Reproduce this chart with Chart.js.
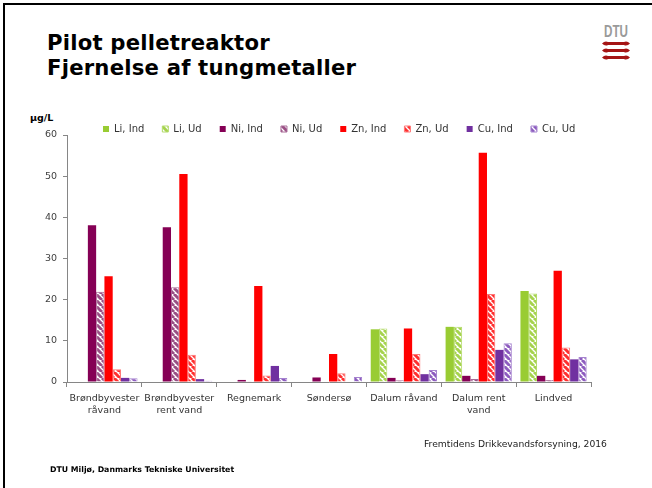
<!DOCTYPE html>
<html><head><meta charset="utf-8">
<script src="https://cdn.jsdelivr.net/npm/chart.js@4"></script>
<style>
html,body{margin:0;padding:0;background:#fff;}
#wrap{position:relative;width:652px;height:488px;overflow:hidden;background:#fff;font-family:"DejaVu Sans",sans-serif;}
#frame{position:absolute;left:3px;top:3px;width:660px;height:500px;border-top:2px solid #000;border-left:2px solid #000;}
#title{position:absolute;left:47px;top:30px;font-family:"DejaVu Sans",sans-serif;font-weight:bold;font-size:21.2px;line-height:25px;color:#000;letter-spacing:0.2px;}
#unit{position:absolute;left:30px;top:112px;font-size:9.5px;font-weight:bold;color:#000;}
#src{position:absolute;left:424px;top:438px;font-size:9.2px;color:#222;}
#foot{position:absolute;left:50px;top:465px;font-size:7.8px;font-weight:bold;color:#000;}
#logo{position:absolute;left:600px;top:20px;}
canvas{position:absolute;left:0;top:0;}
</style></head>
<body><div id="wrap">
<div id="frame"></div>
<div id="title">Pilot pelletreaktor<br>Fjernelse af tungmetaller</div>
<svg id="logo" width="32" height="44" viewBox="0 0 32 44">
 <text x="4" y="17" font-family="Liberation Sans Narrow,Liberation Sans,sans-serif" font-weight="bold" font-size="16" fill="#9a9a9a" textLength="24" lengthAdjust="spacingAndGlyphs">DTU</text>
 <g fill="#a51515">
  <path d="M2 23.5 Q5 20.5 8 22 L24 22 Q27 20.5 30 23.5 Q27 26.5 24 25 L8 25 Q5 26.5 2 23.5 Z"/>
  <path d="M2 30.5 Q5 27.5 8 29 L24 29 Q27 27.5 30 30.5 Q27 33.5 24 32 L8 32 Q5 33.5 2 30.5 Z"/>
  <path d="M2 37.5 Q5 34.5 8 36 L24 36 Q27 34.5 30 37.5 Q27 40.5 24 39 L8 39 Q5 40.5 2 37.5 Z"/>
 </g>
</svg>
<div id="unit">µg/L</div>
<canvas id="c" width="652" height="488"></canvas>
<div id="src">Fremtidens Drikkevandsforsyning, 2016</div>
<div id="foot">DTU Miljø, Danmarks Tekniske Universitet</div>
</div>
<script>
const categories = [["Brøndbyvester","råvand"],["Brøndbyvester","rent vand"],"Regnemark","Søndersø","Dalum råvand",["Dalum rent","vand"],"Lindved"];
const seriesNames = ["Li, Ind","Li, Ud","Ni, Ind","Ni, Ud","Zn, Ind","Zn, Ud","Cu, Ind","Cu, Ud"];
const liInd = [0, 0, 0, 0, 12.8, 13.4, 22.1];
const liUd  = [0, 0, 0, 0, 13.0, 13.4, 21.5];
const niInd = [38.1, 37.6, 0.5, 1.1, 1.0, 1.5, 1.5];
const niUd  = [21.9, 23.0, 0.2, 0.1, 0.4, 0.7, 0.5];
const znInd = [25.7, 50.5, 23.3, 6.8, 13.0, 55.7, 27.0];
const znUd  = [3.1, 6.6, 1.6, 2.1, 6.8, 21.4, 8.4];
const cuInd = [1.0, 0.7, 3.9, 0, 1.9, 7.8, 5.5];
const cuUd  = [0.9, 0.3, 1.0, 1.2, 2.9, 9.4, 6.1];
const yTicks = [0,10,20,30,40,50,60];

function hatch(color){
  const s = 6, c = document.createElement('canvas');
  c.width = s; c.height = s;
  const g = c.getContext('2d');
  g.fillStyle = '#fff'; g.fillRect(0,0,s,s);
  g.strokeStyle = color; g.lineWidth = 3;
  g.beginPath();
  for (const k of [-s,0,s]) { g.moveTo(k,0); g.lineTo(k+s,s); }
  g.stroke();
  return g.createPattern(c,'repeat');
}

const solid = (label, data, color) => ({label, data, backgroundColor: color, borderColor: color, borderWidth: 0});
const striped = (label, data, color, border) => ({label, data, backgroundColor: hatch(color), borderColor: border, borderWidth: 1});

const datasets = [
  solid(seriesNames[0], liInd, '#99CC33'),
  striped(seriesNames[1], liUd, '#A6D34E', '#B4DB6C'),
  solid(seriesNames[2], niInd, '#850055'),
  striped(seriesNames[3], niUd, '#9A4F85', '#A86A96'),
  solid(seriesNames[4], znInd, '#FF0000'),
  striped(seriesNames[5], znUd, '#FF3030', '#FF7777'),
  solid(seriesNames[6], cuInd, '#7030A0'),
  striped(seriesNames[7], cuUd, '#8D5CBF', '#A583CF')
];

const shiftLegend = {
  id: 'shiftLegend',
  afterLayout(chart){
    const l = chart.legend;
    const dx = 85 - l.left, dy = 106 - l.top;
    l.left += dx; l.right += dx; l.top += dy; l.bottom += dy;
  }
};

new Chart(document.getElementById('c'), {
  type: 'bar',
  data: { labels: categories, datasets },
  plugins: [shiftLegend],
  options: {
    responsive: false,
    animation: false,
    layout: { padding: { left: 10, right: 61, top: 97, bottom: 66 } },
    datasets: { bar: { categoryPercentage: 0.885, barPercentage: 1.0 } },
    plugins: {
      tooltip: { enabled: false },
      legend: {
        position: 'top', align: 'start',
        labels: {
          boxWidth: 6, boxHeight: 6, padding: 18, color: '#333',
          font: { family: 'DejaVu Sans', size: 10 }
        }
      }
    },
    scales: {
      x: {
        grid: { display: true, drawOnChartArea: false, drawTicks: true, tickLength: 5, color: '#868686', offset: true },
        border: { display: true, color: '#868686', width: 1 },
        ticks: { color: '#333', font: { family: 'DejaVu Sans', size: 9.5, lineHeight: 1.25 }, padding: 6, maxRotation: 0, autoSkip: false },
        afterFit(s){ s.height = 40; }
      },
      y: {
        min: 0, max: 60,
        afterBuildTicks(s){ s.ticks = yTicks.map(v => ({value: v})); },
        grid: { display: true, drawOnChartArea: false, drawTicks: true, tickLength: 4, color: '#868686' },
        border: { display: true, color: '#868686', width: 1 },
        ticks: { color: '#404040', font: { family: 'DejaVu Sans', size: 9.5 }, padding: 6 },
        afterFit(s){ s.width = 57; }
      }
    }
  }
});
</script>
</body></html>
